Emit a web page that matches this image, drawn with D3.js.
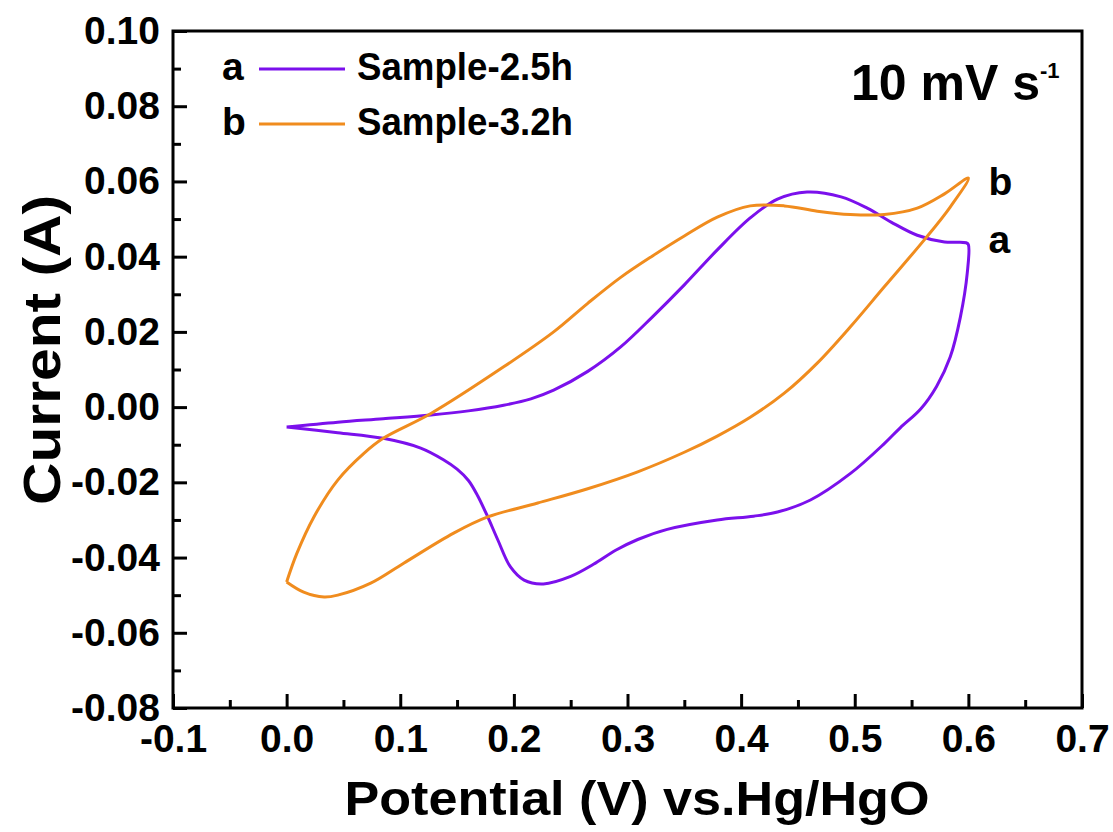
<!DOCTYPE html>
<html>
<head>
<meta charset="utf-8">
<script src="https://cdn.jsdelivr.net/npm/d3@7"></script>
<style>
  html, body { margin: 0; padding: 0; background: #fff; }
  svg text { font-family: "Liberation Sans", Arial, sans-serif; font-weight: bold; fill: #000; }
</style>
</head>
<body>
<script>
// Sample-2.5h, sweep order (anodic then cathodic)
const potentialA = [0, 0.045, 0.085, 0.127, 0.160, 0.191, 0.215, 0.235, 0.265, 0.294, 0.322, 0.350, 0.379, 0.408, 0.432, 0.458, 0.488, 0.511, 0.532, 0.555, 0.579, 0.598, 0.600,
    0.599, 0.593, 0.584, 0.572, 0.558, 0.540, 0.526, 0.496, 0.461, 0.432, 0.411, 0.379, 0.335, 0.309, 0.290, 0.270, 0.250, 0.226, 0.209, 0.197, 0.186, 0.177, 0.168, 0.160, 0.150, 0.138, 0.118, 0.085, 0.045, 0];
const currentA = [-0.0053, -0.0040, -0.0031, -0.0021, -0.0010, 0.0005, 0.0022, 0.0045, 0.0095, 0.0160, 0.0240, 0.0325, 0.0418, 0.0503, 0.0553, 0.0572, 0.0559, 0.0529, 0.0492, 0.0457, 0.0439, 0.0437, 0.0432,
    0.0356, 0.0240, 0.0133, 0.0055, -0.0005, -0.0055, -0.0097, -0.0177, -0.0247, -0.0279, -0.0290, -0.0300, -0.0325, -0.0352, -0.0380, -0.0418, -0.0450, -0.0470, -0.0460, -0.0425, -0.0354, -0.0292, -0.0235, -0.0195, -0.0165, -0.0140, -0.0109, -0.0083, -0.0068, -0.0053];

// Sample-3.2h
const potentialB = [0, 0.009, 0.024, 0.045, 0.068, 0.085, 0.127, 0.191, 0.235, 0.265, 0.294, 0.322, 0.350, 0.379, 0.408, 0.438, 0.467, 0.496, 0.526, 0.555, 0.579, 0.600,
    0.584, 0.561, 0.526, 0.496, 0.467, 0.438, 0.408, 0.379, 0.350, 0.309, 0.265, 0.221, 0.177, 0.147, 0.103, 0.074, 0.045, 0.033, 0.015, 0];
const currentB = [-0.0465, -0.0389, -0.0292, -0.0194, -0.0123, -0.0083, -0.0017, 0.0107, 0.0200, 0.0276, 0.0345, 0.0402, 0.0455, 0.0505, 0.0535, 0.0535, 0.0521, 0.0512, 0.0512, 0.0529, 0.0567, 0.0609,
    0.0532, 0.0444, 0.0320, 0.0213, 0.0117, 0.0037, -0.0027, -0.0077, -0.0120, -0.0172, -0.0217, -0.0255, -0.0292, -0.0335, -0.0415, -0.0468, -0.0500, -0.0505, -0.0492, -0.0465];

const xTicks = [-0.1, 0.0, 0.1, 0.2, 0.3, 0.4, 0.5, 0.6, 0.7];
const xMinorTicks = [-0.05, 0.05, 0.15, 0.25, 0.35, 0.45, 0.55, 0.65];
const yTicks = [-0.08, -0.06, -0.04, -0.02, 0.00, 0.02, 0.04, 0.06, 0.08, 0.10];
const yMinorTicks = [-0.07, -0.05, -0.03, -0.01, 0.01, 0.03, 0.05, 0.07, 0.09];

const seriesNames = ["Sample-2.5h", "Sample-3.2h"];
const seriesKeys = ["a", "b"];
const seriesColours = ["#7b10ec", "#f08c1e"];

const width = 1113, height = 832;
const margin = { top: 31, right: 31, bottom: 124, left: 173 };

const svg = d3.select("body").append("svg")
    .attr("width", width)
    .attr("height", height);

const x = d3.scaleLinear().domain([-0.1, 0.7]).range([margin.left, width - margin.right]);
const y = d3.scaleLinear().domain([-0.08, 0.10]).range([height - margin.bottom, margin.top]);

// plain hyphen for negatives, as in the original
const fmt = p => d => d3.format(p)(d).replace("\u2212", "-");

const series = [
    { values: potentialA.map((v, i) => [v, currentA[i]]) },
    { values: potentialB.map((v, i) => [v, currentB[i]]) }
];

const line = d3.line()
    .x(d => x(d[0]))
    .y(d => y(d[1]))
    .curve(d3.curveCatmullRom.alpha(0.5));

svg.append("g")
    .selectAll("path")
    .data(series)
    .enter()
    .append("path")
    .attr("d", d => line(d.values))
    .attr("fill", "none")
    .attr("stroke", (d, i) => seriesColours[i])
    .attr("stroke-width", 3)
    .attr("stroke-linejoin", "round");

// frame
svg.append("rect")
    .attr("x", x(-0.1))
    .attr("y", y(0.10))
    .attr("width", x(0.7) - x(-0.1))
    .attr("height", y(-0.08) - y(0.10))
    .attr("fill", "none")
    .attr("stroke", "#000")
    .attr("stroke-width", 3);

const xAxis = svg.append("g")
    .attr("transform", "translate(0," + y(-0.08) + ")")
    .call(d3.axisBottom(x).tickValues(xTicks).tickSize(-14).tickPadding(16).tickFormat(fmt(".1f")));
xAxis.select(".domain").remove();
xAxis.selectAll(".tick line").attr("stroke-width", 3);
xAxis.selectAll("text").attr("font-size", 39).attr("font-family", null);

svg.append("g")
    .attr("transform", "translate(0," + y(-0.08) + ")")
    .call(d3.axisBottom(x).tickValues(xMinorTicks).tickSize(-8).tickFormat(""))
    .call(g => g.select(".domain").remove())
    .selectAll(".tick line").attr("stroke-width", 3);

const yAxis = svg.append("g")
    .attr("transform", "translate(" + x(-0.1) + ",0)")
    .call(d3.axisLeft(y).tickValues(yTicks).tickSize(-14).tickPadding(13).tickFormat(fmt(".2f")));
yAxis.select(".domain").remove();
yAxis.selectAll(".tick line").attr("stroke-width", 3);
yAxis.selectAll("text").attr("font-size", 39).attr("font-family", null);

svg.append("g")
    .attr("transform", "translate(" + x(-0.1) + ",0)")
    .call(d3.axisLeft(y).tickValues(yMinorTicks).tickSize(-8).tickFormat(""))
    .call(g => g.select(".domain").remove())
    .selectAll(".tick line").attr("stroke-width", 3);

// axis titles
svg.append("text")
    .attr("x", 637)
    .attr("y", 815)
    .attr("text-anchor", "middle")
    .attr("font-size", 48)
    .attr("textLength", 585)
    .attr("lengthAdjust", "spacingAndGlyphs")
    .text("Potential (V) vs.Hg/HgO");

svg.append("text")
    .attr("transform", "translate(60,350) rotate(-90)")
    .attr("text-anchor", "middle")
    .attr("font-size", 52)
    .attr("textLength", 310)
    .attr("lengthAdjust", "spacingAndGlyphs")
    .text("Current (A)");

// legend
const legend = svg.append("g")
    .selectAll("g")
    .data(seriesNames)
    .enter()
    .append("g")
    .attr("transform", (d, i) => "translate(0," + (69 + i * 55) + ")");

legend.append("text")
    .attr("x", 222)
    .attr("y", 11)
    .attr("font-size", 39)
    .text((d, i) => seriesKeys[i]);

legend.append("line")
    .attr("x1", 259)
    .attr("x2", 345)
    .attr("stroke", (d, i) => seriesColours[i])
    .attr("stroke-width", 3);

legend.append("text")
    .attr("x", 357)
    .attr("y", 11)
    .attr("font-size", 39)
    .attr("textLength", 216)
    .attr("lengthAdjust", "spacingAndGlyphs")
    .text(d => d);

// scan rate
const rate = svg.append("text")
    .attr("x", 851)
    .attr("y", 100)
    .attr("font-size", 50);
rate.append("tspan").text("10 mV s");
rate.append("tspan").attr("font-size", 22).attr("dy", -22).text("-1");

// curve labels at the switching potential
const labelOffsets = [8, 17];
svg.selectAll(".endlabel")
    .data(series)
    .enter()
    .append("text")
    .attr("class", "endlabel")
    .attr("x", d => x(d3.max(d.values, v => v[0])) + 20)
    .attr("y", (d, i) => y(d.values[d3.maxIndex(d.values, v => v[0])][1]) + labelOffsets[i])
    .attr("font-size", 39)
    .text((d, i) => seriesKeys[i]);
</script>
</body>
</html>
